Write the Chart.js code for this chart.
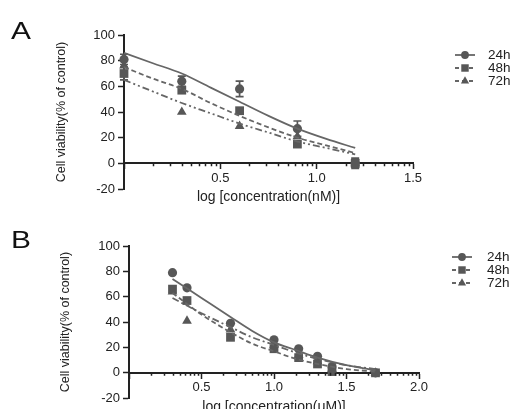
<!DOCTYPE html>
<html>
<head>
<meta charset="utf-8">
<script src="https://cdn.jsdelivr.net/npm/chart.js@4.4.1/dist/chart.umd.min.js"></script>
<style>
    body { margin: 0; background: #fff; width: 522px; height: 409px; overflow: hidden; position: relative;
           font-family: "Liberation Sans", Arial, sans-serif; }
    canvas { position: absolute; left: 0; }
    .letter { position: absolute; left: 11px; font-size: 23px; color: #111; line-height: 1;
              transform: scaleX(1.3); transform-origin: left top; }
</style>
</head>
<body>
<canvas id="chart-a" width="522" height="205" style="top:0"></canvas>
<canvas id="chart-b" width="522" height="204" style="top:205px"></canvas>
<div class="letter" style="top:20px">A</div>
<div class="letter" style="top:229px">B</div>
<script>
var series_names = ["24h", "48h", "72h"];
var y_ticks      = [-20, 0, 20, 40, 60, 80, 100];

// Panel A - log [concentration(nM)]
var a_x_ticks   = [0, 0.5, 1.0, 1.5];
var a_doses     = [0, 0.3, 0.6, 0.9, 1.2];
var a_24h       = [81, 64, 58, 27, 0];
var a_48h       = [70, 57, 41, 15, 0];
var a_72h       = [76, 40, 29, 21, 0];
var a_24h_err   = [4, 4, 6, 6, 4];
var a_48h_err   = [5, 0, 0, 0, 3];
var a_72h_err   = [0, 0, 0, 0, 0];
var a_fit_x     = [0, 0.15, 0.3, 0.45, 0.6, 0.75, 0.9, 1.05, 1.2];
var a_fit_24h   = [86, 78, 70, 59, 48, 37, 27, 19, 12];
var a_fit_48h   = [75, 66, 58, 47, 37, 28, 20, 14, 8];
var a_fit_72h   = [65, 56, 47, 39, 31, 24, 17, 12, 7];

// Panel B - log [concentration(uM)]
var b_x_ticks   = [0, 0.5, 1.0, 1.5, 2.0];
var b_doses     = [0.3, 0.4, 0.7, 1.0, 1.17, 1.3, 1.4, 1.7];
var b_24h       = [79, 67, 39, 26, 19, 13, 5, 0];
var b_48h       = [66, 57, 28, 19, 12, 7, 1, 0];
var b_72h       = [64, 41, 34, 22, 14, 9, 3, 0];
var b_fit_x     = [0.3, 0.5, 0.7, 0.85, 1.0, 1.15, 1.3, 1.5, 1.7];
var b_fit_24h   = [74, 59, 44, 33, 24, 18, 12, 6, 2];
var b_fit_48h   = [63, 46, 32, 23, 17, 11, 7, 3, 1];
var b_fit_72h   = [59, 47, 36, 28, 22, 16, 11, 6, 3];

var AXIS_COLOR   = '#222222';
var MARKER_COLOR = '#575757';
var LINE_COLOR   = '#666666';
var FONT_FAMILY  = '"Liberation Sans", Arial, sans-serif';

var point_styles = ['circle', 'rect', 'triangle'];
var point_radius = [4.6, 6.2, 5.6];

/******************************************************************************
* Pairs up x and y arrays for the linear x scale.
******************************************************************************/
function make_points(xs, ys) {
    return xs.map(function(x, i) {
        return { x: x, y: ys[i] };
    });
}

/******************************************************************************
* Error bars (with caps) drawn behind the markers.
******************************************************************************/
var error_bar_plugin = {
    id: 'errorBars',
    beforeDatasetsDraw: function(chart) {
        var ctx = chart.ctx;
        var xs  = chart.scales.x;
        var ys  = chart.scales.y;

        chart.data.datasets.forEach(function(ds) {
            if (!ds.errors) return;
            ds.data.forEach(function(p, i) {
                var e = ds.errors[i];
                if (!e) return;
                var px  = xs.getPixelForValue(p.x);
                var top = ys.getPixelForValue(p.y + e);
                var bot = ys.getPixelForValue(p.y - e);
                ctx.save();
                ctx.strokeStyle = MARKER_COLOR;
                ctx.lineWidth = 1.7;
                ctx.beginPath();
                ctx.moveTo(px, top);     ctx.lineTo(px, bot);
                ctx.moveTo(px - 4, top); ctx.lineTo(px + 4, top);
                ctx.moveTo(px - 4, bot); ctx.lineTo(px + 4, bot);
                ctx.stroke();
                ctx.restore();
            });
        });
    }
};

/******************************************************************************
* Log style minor ticks under the x axis line, between each major tick.
******************************************************************************/
var minor_tick_plugin = {
    id: 'minorTicks',
    afterDraw: function(chart) {
        var ctx = chart.ctx;
        var xs  = chart.scales.x;
        var y0  = chart.scales.y.getPixelForValue(0);

        ctx.save();
        ctx.strokeStyle = AXIS_COLOR;
        ctx.lineWidth = 1.5;
        ctx.beginPath();
        for (var a = xs.min; a < xs.max - 1e-9; a += 0.5) {
            for (var k = 2; k <= 9; k++) {
                var px = Math.round(xs.getPixelForValue(a + 0.5 * Math.log10(k))) + 0.5;
                ctx.moveTo(px, y0);
                ctx.lineTo(px, y0 + 3);
            }
        }
        ctx.stroke();
        ctx.restore();
    }
};

/******************************************************************************
* Legend on the right: line sample with its marker, then the label.
******************************************************************************/
var side_legend_plugin = {
    id: 'sideLegend',
    afterDraw: function(chart, args, opts) {
        var ctx = chart.ctx;

        chart.data.datasets.forEach(function(ds) {
            if (ds.legend_row === undefined) return;
            var y = opts.rows[ds.legend_row];

            ctx.save();
            ctx.strokeStyle = LINE_COLOR;
            ctx.lineWidth = 1.8;
            ctx.setLineDash(ds.legend_dash);
            ctx.beginPath();
            ctx.moveTo(opts.x - 10, y);
            ctx.lineTo(opts.x + 10, y);
            ctx.stroke();
            ctx.setLineDash([]);

            ctx.fillStyle = MARKER_COLOR;
            Chart.helpers.drawPoint(ctx, {
                pointStyle: ds.pointStyle,
                radius: ds.pointRadius * 0.85,
                borderWidth: 0,
                rotation: 0
            }, opts.x, y);

            ctx.fillStyle = '#222';
            ctx.font = '13.5px ' + FONT_FAMILY;
            ctx.textBaseline = 'middle';
            ctx.textAlign = 'left';
            ctx.fillText(ds.label, opts.text_x, y);
            ctx.restore();
        });
    }
};

/******************************************************************************
* Builds one dose response panel.
******************************************************************************/
function create_panel(canvas_id, p) {

    var datasets = [];
    var fit_dash = [[], [5, 3], p.dash_72h];
    var leg_dash = [[], [4, 3], [4, 3]];

    p.fits.forEach(function(fit, i) {
        datasets.push({
            type: 'line',
            label: series_names[i] + ' fit',
            data: make_points(p.fit_x, fit),
            borderColor: LINE_COLOR,
            borderWidth: 1.8,
            borderDash: fit_dash[i],
            pointRadius: 0,
            cubicInterpolationMode: 'monotone',
            fill: false,
            clip: false
        });
    });

    p.values.forEach(function(vals, i) {
        datasets.push({
            type: 'scatter',
            label: series_names[i],
            data: make_points(p.doses, vals),
            errors: p.errors ? p.errors[i] : null,
            pointStyle: point_styles[i],
            pointRadius: point_radius[i],
            pointBackgroundColor: MARKER_COLOR,
            pointBorderColor: MARKER_COLOR,
            pointBorderWidth: 0,
            showLine: false,
            clip: false,
            legend_row: i,
            legend_dash: leg_dash[i]
        });
    });

    var ctx = document.getElementById(canvas_id).getContext('2d');

    return new Chart(ctx, {
        type: 'scatter',
        data: { datasets: datasets },
        plugins: [error_bar_plugin, minor_tick_plugin, side_legend_plugin],
        options: {
            responsive: false,
            animation: false,
            events: [],
            layout: { padding: p.padding },
            plugins: {
                legend:  { display: false },
                tooltip: { enabled: false },
                sideLegend: { x: p.legend_x, text_x: p.legend_text_x, rows: p.legend_rows }
            },
            scales: {
                x: {
                    type: 'linear',
                    position: { y: 0 },
                    min: p.x_ticks[0],
                    max: p.x_ticks[p.x_ticks.length - 1],
                    afterBuildTicks: function(scale) {
                        scale.ticks = p.x_ticks.map(function(v) { return { value: v }; });
                    },
                    ticks: {
                        color: '#222',
                        padding: 2,
                        maxRotation: 0,
                        font: { family: FONT_FAMILY, size: 13 },
                        callback: function(v) { return v === 0 ? '' : v.toFixed(1); }
                    },
                    grid:   { drawOnChartArea: false, tickLength: 5, tickColor: AXIS_COLOR, tickWidth: 1.5 },
                    border: { color: AXIS_COLOR, width: 2 },
                    title:  {
                        display: true,
                        text: p.x_title,
                        color: '#222',
                        padding: { top: 1, bottom: 0 },
                        font: { family: FONT_FAMILY, size: 14 }
                    }
                },
                y: {
                    type: 'linear',
                    position: 'left',
                    min: -20,
                    max: 100,
                    afterBuildTicks: function(scale) {
                        scale.ticks = y_ticks.map(function(v) { return { value: v }; });
                    },
                    afterFit: function(scale) {
                        scale.width = p.y_axis_width;
                    },
                    ticks: {
                        color: '#222',
                        padding: 3,
                        font: { family: FONT_FAMILY, size: 13 }
                    },
                    grid:   { drawOnChartArea: false, tickLength: 6, tickColor: AXIS_COLOR, tickWidth: 1.5 },
                    border: { color: AXIS_COLOR, width: 2 },
                    title:  {
                        display: true,
                        text: 'Cell viability(% of control)',
                        color: '#222',
                        padding: { top: p.y_title_pad, bottom: 0 },
                        font: { family: FONT_FAMILY, size: 12.5 }
                    }
                }
            }
        }
    });
}

create_panel('chart-a', {
    doses: a_doses,
    values: [a_24h, a_48h, a_72h],
    errors: [a_24h_err, a_48h_err, a_72h_err],
    fit_x: a_fit_x,
    fits: [a_fit_24h, a_fit_48h, a_fit_72h],
    dash_72h: [7, 3, 2, 3, 2, 3],
    x_ticks: a_x_ticks,
    x_title: 'log [concentration(nM)]',
    y_axis_width: 124,
    y_title_pad: 54,
    padding: { left: 0, top: 35, right: 109, bottom: 16 },
    legend_x: 465,
    legend_text_x: 488,
    legend_rows: [55, 68, 81]
});

create_panel('chart-b', {
    doses: b_doses,
    values: [b_24h, b_48h, b_72h],
    errors: null,
    fit_x: b_fit_x,
    fits: [b_fit_24h, b_fit_48h, b_fit_72h],
    dash_72h: [7, 3, 2, 3],
    x_ticks: b_x_ticks,
    x_title: 'log [concentration(\u03bcM)]',
    y_axis_width: 129,
    y_title_pad: 58,
    padding: { left: 0, top: 41, right: 103, bottom: 9 },
    legend_x: 462,
    legend_text_x: 487,
    legend_rows: [52, 65, 78]
});
</script>
</body>
</html>
